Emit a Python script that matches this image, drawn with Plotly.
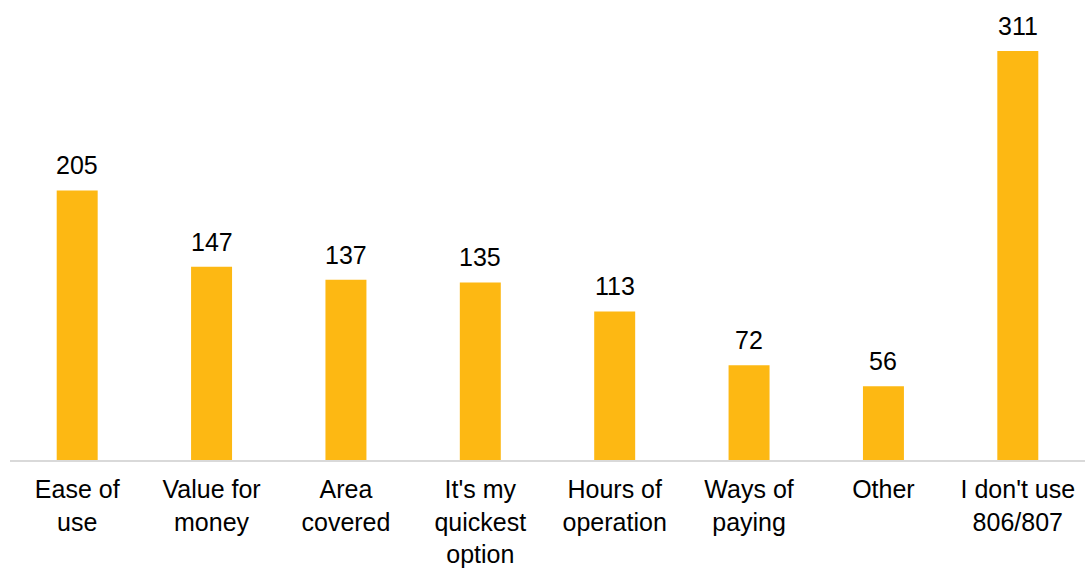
import plotly.graph_objects as go

categories = ["Ease of<br>use", "Value for<br>money", "Area<br>covered", "It's my<br>quickest<br>option",
              "Hours of<br>operation", "Ways of<br>paying", "Other", "I don't use<br>806/807"]
values = [205, 147, 137, 135, 113, 72, 56, 311]

BAR_COLOR = "#FDB813"
FONT = "Liberation Sans, Arial, sans-serif"

fig = go.Figure(go.Bar(x=categories, y=values, marker=dict(color=BAR_COLOR, line=dict(width=0)),
                       hoverinfo="skip"))

for c, v in zip(categories, values):
    fig.add_annotation(x=c, y=v, text=str(v), showarrow=False, yanchor="bottom", yshift=9,
                       font=dict(family=FONT, size=25, color="#000000"))

fig.update_layout(
    width=1085, height=569,
    margin=dict(l=10, r=0, t=0, b=109),
    paper_bgcolor="white", plot_bgcolor="white",
    bargap=0.695,
    showlegend=False,
    font=dict(family=FONT, size=25, color="#000000"),
)
fig.update_xaxes(showline=True, linecolor="#D9D9D9", linewidth=2, ticks="", showgrid=False,
                 ticklabelstandoff=6,
                 tickfont=dict(family=FONT, size=25, color="#000000"))
fig.update_yaxes(range=[0, 349.8], visible=False, showgrid=False, zeroline=False)

fig.write_html("out.html")
